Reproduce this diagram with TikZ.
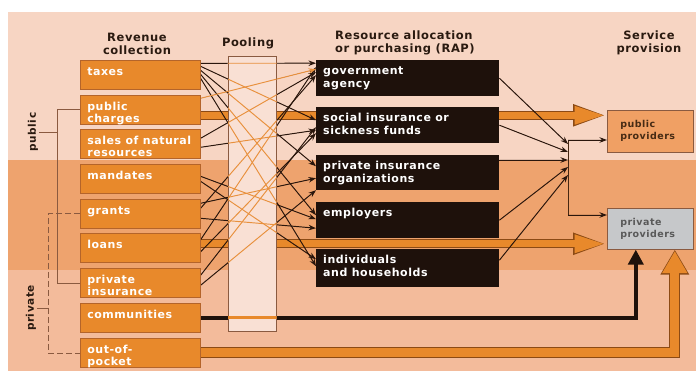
\documentclass[tikz,border=0pt]{standalone}
\usepackage{fontspec}
\setmainfont{DejaVu Sans}[LetterSpace=5]
\usetikzlibrary{arrows.meta}

\definecolor{bgtop}{HTML}{F7D5C3}
\definecolor{bgmid}{HTML}{EEA36E}
\definecolor{bglow}{HTML}{F3BB9B}
\definecolor{revfill}{HTML}{E8892B}
\definecolor{revline}{HTML}{B4642A}
\definecolor{rapfill}{HTML}{1E110B}
\definecolor{poolfill}{HTML}{F9E0D4}
\definecolor{poolline}{HTML}{8A5A40}
\definecolor{pubfill}{HTML}{F0A064}
\definecolor{privfill}{HTML}{C6C8CA}
\definecolor{darkflow}{HTML}{2A160C}
\definecolor{lightflow}{HTML}{E8903C}
\definecolor{headc}{HTML}{2A1A10}
\definecolor{fatline}{HTML}{8C4A14}

\pgfdeclarelayer{back}
\pgfdeclarelayer{mid}
\pgfsetlayers{back,mid,main}

\newcommand{\cell}[3]{\parbox[c][#1][t]{#2}{\raggedright\strut #3}}

\tikzstyle{head}=[font=\fontsize{11.5}{13}\selectfont\bfseries, text=headc, align=center, inner sep=0pt]
\tikzstyle{side}=[font=\fontsize{10.5}{12}\selectfont\bfseries, text=headc, inner sep=1pt, rotate=90]
\tikzstyle{rev}=[anchor=north west, draw=revline, fill=revfill, text=white, inner xsep=7pt, inner ysep=6pt, line width=0.6pt, font=\fontsize{11}{12.5}\selectfont\bfseries]
\tikzstyle{rap}=[anchor=north west, fill=rapfill, text=white, inner xsep=7pt, inner ysep=6pt, font=\fontsize{11}{12.5}\selectfont\bfseries]
\tikzstyle{pool}=[anchor=north west, draw=poolline, fill=poolfill, line width=0.6pt, minimum width=48pt, minimum height=275pt, inner sep=0pt]
\tikzstyle{prov}=[anchor=north west, draw=poolline, line width=0.6pt, minimum width=86pt, minimum height=42pt, text width=60pt, inner xsep=13pt, align=left, font=\fontsize{9.5}{12}\selectfont\bfseries]
\tikzstyle{flow}=[draw=darkflow, fill=darkflow, line width=0.95pt, -{Stealth[length=7.5pt,width=5.5pt]}]
\tikzstyle{inpool}=[draw=lightflow, line width=0.95pt]
\tikzstyle{brk}=[draw=poolline, line width=0.6pt]
\tikzstyle{fatA}=[draw=fatline, line width=8.6pt, line join=miter]
\tikzstyle{fatB}=[draw=revfill, line width=6.8pt, line join=miter]

\def\flowlist{taxes/11.5/govt/15, taxes/8.5/social/5, taxes/4.5/privorg/6.5,
  taxes/0.5/employ/5, taxes/-3.5/indiv/2,
  sales/5.5/govt/6, sales/-3.5/social/-5, mand/2.5/employ/1,
  mand/-2.5/indiv/9, grants/10.5/privorg/-5.5, grants/-4.5/employ/-8,
  grants/5.5/govt/3, loans/8/govt/11, loans/-4/social/-8,
  privins/-2.5/privorg/-17.5, privins/7.5/social/-2}

\begin{document}
\begin{tikzpicture}[x=1pt,y=-1pt]
\useasboundingbox (0,0) rectangle (696,374);
% background bands
\begin{pgfonlayer}{back}
  \fill[bgtop] (8,12) rectangle (696,160);
  \fill[bgmid] (8,160) rectangle (696,270);
  \fill[bglow] (8,270) rectangle (696,371);
\end{pgfonlayer}

% column headings
\draw (137,44) node[head] (hrev) {Revenue\\collection};
\draw (248,43) node[head] (hpool) {Pooling};
\draw (335,43) node[head,anchor=west,align=left] (hrap) {Resource allocation\\or purchasing (RAP)};
\draw (649,43) node[head] (hserv) {Service\\provision};

% revenue collection
\draw (80,60) node[rev] (taxes) {\cell{17pt}{106pt}{taxes}};
\draw (80,95) node[rev] (pubch) {\cell{17pt}{106pt}{public\\charges}};
\draw (80,129) node[rev] (sales) {\cell{17pt}{106pt}{sales of natural\\resources}};
\draw (80,164) node[rev] (mand) {\cell{17pt}{106pt}{mandates}};
\draw (80,199) node[rev] (grants) {\cell{17pt}{106pt}{grants}};
\draw (80,233) node[rev] (loans) {\cell{17pt}{106pt}{loans}};
\draw (80,268) node[rev] (privins) {\cell{17pt}{106pt}{private\\insurance}};
\draw (80,303) node[rev] (commun) {\cell{17pt}{106pt}{communities}};
\draw (80,338) node[rev] (oop) {\cell{17pt}{106pt}{out-of-\\pocket}};

% pooling
\draw (228,56) node[pool] (pool) {};

% resource allocation / purchasing
\draw (316,60) node[rap] (govt) {\cell{24pt}{169pt}{government\\agency}};
\draw (316,107) node[rap] (social) {\cell{24pt}{169pt}{social insurance or\\sickness funds}};
\draw (316,155) node[rap] (privorg) {\cell{23pt}{169pt}{private insurance\\organizations}};
\draw (316,202) node[rap] (employ) {\cell{24pt}{169pt}{employers}};
\draw (316,249) node[rap] (indiv) {\cell{26pt}{169pt}{individuals\\and households}};

% service provision
\draw (607,110) node[prov,fill=pubfill,text=headc!85!revfill] (pubprov) {public\\providers};
\draw (607,208) node[prov,fill=privfill,text=black!65,minimum height=41pt] (privprov) {private\\providers};

% public / private
\draw (33,132) node[side] (publab) {public};
\draw (31,308) node[side] (privlab) {private};
\coordinate (pubbar) at (57,132);
\coordinate (privbar) at (48,308);
\draw[brk] (pubch.west) -- ++(-23,0) |- (privins.west);
\draw[brk] (publab.south) -- (pubbar);
\draw[brk,dash pattern=on 6pt off 3pt] (grants.west) -- ++(-32,0) |- (oop.west);
\draw[brk] (privlab.south) -- (privbar);

% fat flows, behind boxes
\coordinate (pubout) at ([yshift=-5.5pt]pubch.east);
\coordinate (loanout) at ([yshift=4pt]loans.east);
\coordinate (comin) at ([xshift=-14.5pt]privprov.south);
\coordinate (oopin) at ([xshift=24.5pt]privprov.south);
\begin{pgfonlayer}{mid}
  \draw[fatA,-{Triangle[length=34pt,width=19.5pt]}] (pubout) -- (pubout -| pubprov.west);
  \draw[fatB,shorten >=1.4pt,-{Triangle[length=31pt,width=16.5pt]}] (pubout) -- (pubout -| pubprov.west);
  \draw[fatA,-{Triangle[length=34pt,width=19.5pt]}] (loanout) -- (loanout -| privprov.west);
  \draw[fatB,shorten >=1.4pt,-{Triangle[length=31pt,width=16.5pt]}] (loanout) -- (loanout -| privprov.west);
  \draw[fatA,line width=11pt,-{Triangle[length=25pt,width=27pt]}] (oop.east) -| (oopin);
  \draw[fatB,line width=9pt,shorten >=1.4pt,-{Triangle[length=22pt,width=23.5pt]}] (oop.east) -| (oopin);
  \draw[draw=rapfill,line width=4pt,-{Triangle[length=15pt,width=15pt]}] (commun.east) -| (comin);
  \foreach \src/\sy/\dst/\dy in \flowlist
    \draw[flow] ([yshift=\sy pt]\src.east) -- ([yshift=\dy pt]\dst.west);
  \draw[flow,draw=lightflow] ([yshift=11.5pt]pubch.east) -- ([yshift=9pt]govt.west);
\end{pgfonlayer}

% flows seen through the pooling box
\begin{scope}
  \clip (pool.south west) rectangle (pool.north east);
  \foreach \src/\sy/\dst/\dy in \flowlist
    \draw[inpool] ([yshift=\sy pt]\src.east) -- ([yshift=\dy pt]\dst.west);
  \draw[inpool] ([yshift=11.5pt]pubch.east) -- ([yshift=9pt]govt.west);
  \draw[inpool,line width=3pt,draw=revfill] (commun.east) -- (comin |- commun.east);
\end{scope}

% purchasers to providers
\coordinate (jtop) at (568,140);
\coordinate (jbot) at (568,215);
\draw[darkflow!85!revfill,line width=0.6pt] (jtop) -- (jbot);
\draw[flow] (jtop) -- (jtop -| pubprov.west);
\draw[flow] (jbot) -- (jbot -| privprov.west);
\draw[flow] (govt.east) -- ([yshift=-4pt]jtop);
\draw[flow] (social.east) -- ([yshift=-12pt]jtop);
\draw[flow] ([yshift=-5pt]privorg.north east) -- ([yshift=-20pt]jtop);
\draw[flow] (employ.east) -- ([yshift=-27pt]jtop);
\draw[flow] ([yshift=8pt]indiv.east) -- ([yshift=-35pt]jtop);
\end{tikzpicture}
\end{document}
